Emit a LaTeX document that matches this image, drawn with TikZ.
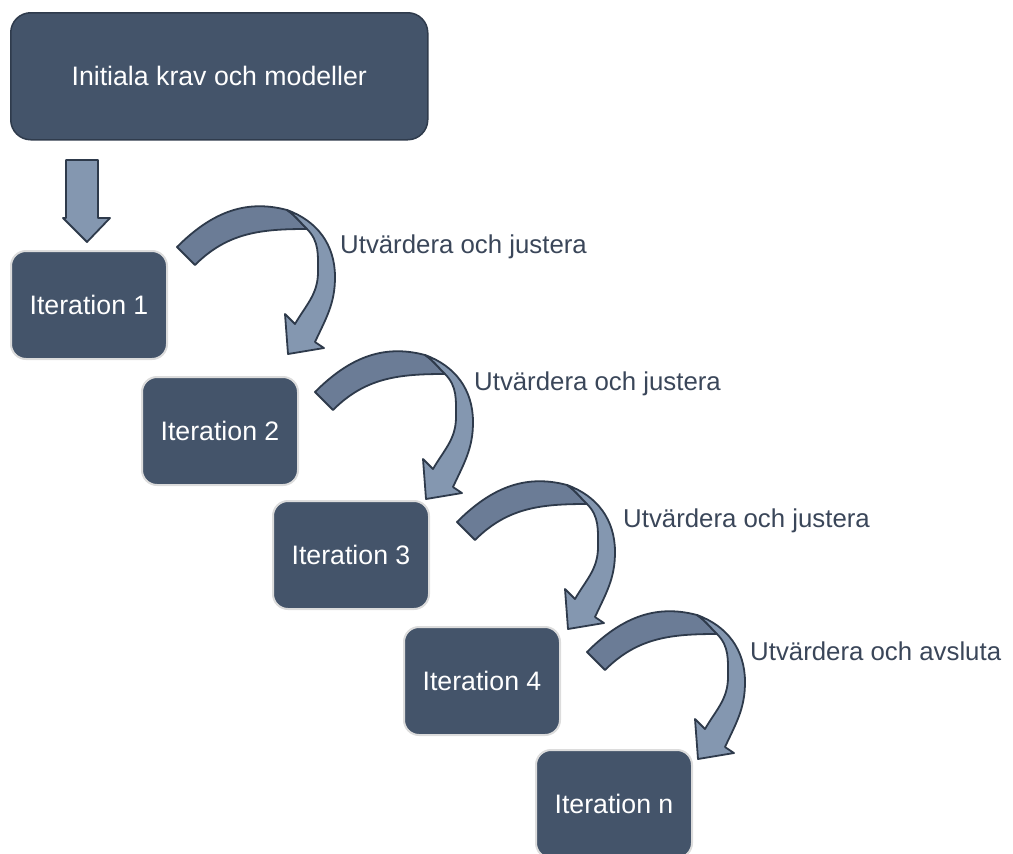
\documentclass[tikz,border=0pt]{standalone}
\usepackage{fontspec}
\setmainfont{Liberation Sans}
\definecolor{boxfill}{HTML}{44546A}
\definecolor{boxedge}{HTML}{DCDCDC}
\definecolor{topedge}{HTML}{2F3B4C}
\definecolor{banddark}{HTML}{6B7C96}
\definecolor{bandlight}{HTML}{8497B0}
\definecolor{bandedge}{HTML}{2E3A4B}
\definecolor{labelink}{HTML}{3A4659}
\tikzset{
  stagebox/.style={draw=boxedge, line width=2pt, fill=boxfill, rounded corners=15pt,
    minimum width=156pt, minimum height=108pt, inner sep=0pt, text=white,
    font=\fontsize{26.7}{30}\selectfont, anchor=north west},
  topbox/.style={stagebox, draw=topedge, line width=1.5pt, rounded corners=20pt,
    minimum width=417pt, minimum height=127pt},
  steplabel/.style={anchor=base west, inner sep=0pt, text=labelink,
    font=\fontsize{25.8}{30}\selectfont},
  bandback/.style={fill=banddark, draw=bandedge, line width=1.8pt, line join=round},
  bandfront/.style={fill=bandlight, draw=bandedge, line width=1.8pt, line join=round},
  pics/turnarrow/.style={code={
    % rear face of the ribbon, from the tail up over the top
    \path[bandback] (0,0) to[out=45,in=165] (110,37) to[out=-35,in=135] (130,18)
      to[out=180,in=45] (18,-18) -- cycle;
    % front face descending into the arrow head
    \path[bandfront] (110,37) to[out=-20,in=90] (158,-30) to[out=-90,in=65] (138,-95)
      -- (147,-101) -- (111,-107) -- (108,-67) -- (118,-77)
      to[out=60,in=-90] (141,-25) to[out=90,in=-45] (130,18)
      to[out=135,in=-35] (110,37) -- cycle;
  }}
}
\begin{document}
\begin{tikzpicture}[x=1pt,y=1pt]
\useasboundingbox (0,0) rectangle (1013,-854);

\node[topbox] (init) at (10,-12) {Initiala krav och modeller};

\node[stagebox] (it1) at (10,-250) {Iteration 1};
\node[stagebox] (it2) at (141,-376) {Iteration 2};
\node[stagebox] (it3) at (272,-500) {Iteration 3};
\node[stagebox] (it4) at (403,-626) {Iteration 4};
\node[stagebox] (itn) at (535,-749) {Iteration n};

% block arrow from the initial box down to the first iteration
\coordinate (dtop) at (init.south west |- 0,-160);
\path[bandfront] (66,-160) -- (98,-160) -- (98,-218) -- (110,-218) -- (87,-242)
  -- (63,-218) -- (66,-218) -- cycle;

% curved arrows between consecutive iterations
\coordinate (t1) at (177,-247);
\coordinate (t2) at (315,-392);
\coordinate (t3) at (457,-522);
\coordinate (t4) at (587,-652);
\pic at (t1) {turnarrow};
\pic at (t2) {turnarrow};
\pic at (t3) {turnarrow};
\pic at (t4) {turnarrow};

\node[steplabel] (l1) at (340,-253) {Utvärdera och justera};
\node[steplabel] (l2) at (474,-390) {Utvärdera och justera};
\node[steplabel] (l3) at (623,-527) {Utvärdera och justera};
\node[steplabel] (l4) at (750,-660) {Utvärdera och avsluta};
\end{tikzpicture}
\end{document}
